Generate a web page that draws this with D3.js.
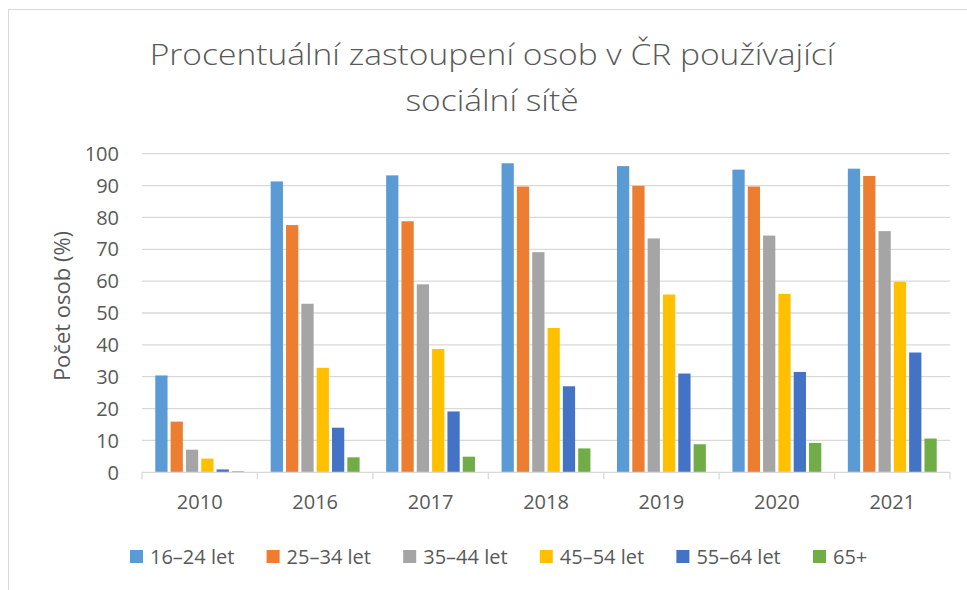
<!DOCTYPE html>
<html>
<head>
<meta charset="utf-8">
<script src="https://cdn.jsdelivr.net/npm/d3@7"></script>
<style>
    body { margin: 0; background: #fff; }
    text { font-family: "Open Sans", "Noto Sans", sans-serif; fill: #595959; }
</style>
</head>
<body>
<div id="chart"></div>
<script>
"use strict";

// Data
let years = ["2010", "2016", "2017", "2018", "2019", "2020", "2021"];
let groups = ["16–24 let", "25–34 let", "35–44 let", "45–54 let", "55–64 let", "65+"];
let colours = ["#5B9BD5", "#ED7D31", "#A5A5A5", "#FFC000", "#4472C4", "#70AD47"];

let age1624 = [30.4, 91.3, 93.2, 97.0, 96.1, 95.0, 95.3];
let age2534 = [15.9, 77.6, 78.8, 89.7, 89.9, 89.7, 93.0];
let age3544 = [7.1, 52.9, 59.0, 69.1, 73.4, 74.3, 75.7];
let age4554 = [4.3, 32.8, 38.7, 45.3, 55.8, 56.0, 59.8];
let age5564 = [0.9, 14.0, 19.1, 27.0, 31.0, 31.5, 37.6];
let age65 = [0.3, 4.7, 4.9, 7.5, 8.8, 9.2, 10.6];

let yTicks = [0, 10, 20, 30, 40, 50, 60, 70, 80, 90, 100];

function barchart() {

    let width = 967;
    let height = 590;
    let left = 142;
    let right = 950;
    let top = 153.7;
    let bottom = 472.3;

    let series = [age1624, age2534, age3544, age4554, age5564, age65];

    let svg = d3.select("#chart").append("svg")
        .attr("width", width).attr("height", height);

    // Chart frame (only left and top edges visible)
    svg.append("rect").attr("x", 8.5).attr("y", 9.5)
        .attr("width", 1000).attr("height", 700)
        .style("fill", "none").style("stroke", "#d9d9d9").style("stroke-width", 1);

    // Scales
    let x0 = d3.scaleBand().domain(years).range([left, right]);
    let x1 = d3.scaleBand().domain(groups)
        .range([x0.bandwidth() * 0.115, x0.bandwidth() * 0.885])
        .paddingInner(0.2);
    let y = d3.scaleLinear().domain([0, 100]).range([bottom, top]);

    // Gridlines
    svg.append("g").selectAll("line").data(yTicks.slice(1)).enter()
        .append("line")
        .attr("x1", left).attr("x2", right)
        .attr("y1", function (d) { return y(d); })
        .attr("y2", function (d) { return y(d); })
        .style("stroke", "#d9d9d9").style("stroke-width", 1.3);

    // Y tick labels
    svg.append("g").selectAll("text").data(yTicks).enter()
        .append("text")
        .attr("x", 119)
        .attr("y", function (d) { return y(d); })
        .attr("dy", "0.36em")
        .style("text-anchor", "end").style("font-size", "20px")
        .text(function (d) { return d; });

    // Bars
    let groupsG = svg.append("g").selectAll("g").data(years).enter()
        .append("g")
        .attr("transform", function (d) { return `translate(${x0(d)},0)`; });

    groupsG.selectAll("rect").data(function (d, i) {
        return series.map(function (s, j) {
            return {group: groups[j], value: s[i], colour: colours[j]};
        });
    }).enter()
        .append("rect")
        .attr("x", function (d) { return x1(d.group); })
        .attr("y", function (d) { return y(d.value); })
        .attr("width", x1.bandwidth())
        .attr("height", function (d) { return y(0) - y(d.value); })
        .style("fill", function (d) { return d.colour; });

    // X axis
    let xAxis = svg.append("g").attr("transform", `translate(0,${bottom})`)
        .call(d3.axisBottom(x0).tickSize(0).tickPadding(23));
    xAxis.select(".domain").remove();
    xAxis.selectAll("text").style("font-size", "20px")
        .style("font-family", "'Open Sans', sans-serif").style("fill", "#595959");

    svg.append("line").attr("x1", left).attr("x2", right)
        .attr("y1", bottom).attr("y2", bottom)
        .style("stroke", "#d9d9d9").style("stroke-width", 1.3);

    let boundaries = years.map(function (d) { return x0(d); }).concat([right]);
    svg.append("g").selectAll("line").data(boundaries).enter()
        .append("line")
        .attr("x1", function (d) { return d; }).attr("x2", function (d) { return d; })
        .attr("y1", bottom).attr("y2", bottom + 7)
        .style("stroke", "#d9d9d9").style("stroke-width", 1.3);

    // Y axis title
    svg.append("text")
        .attr("transform", `translate(70,${(top + bottom) / 2 - 7}) rotate(-90)`)
        .style("text-anchor", "middle").style("font-size", "22px")
        .text("Počet osob (%)");

    // Title, stretched a little sideways to the width of the original
    let titleLines = ["Procentuální zastoupení osob v ČR používající", "sociální sítě"];
    let titleBase = [65, 111];
    let titleG = svg.append("g").attr("transform", "translate(492,0)");
    let titleTexts = titleG.selectAll("text").data(titleLines).enter()
        .append("text")
        .attr("y", function (d, i) { return titleBase[i]; })
        .style("text-anchor", "middle").style("font-size", "29.5px").style("font-weight", 300)
        .text(function (d) { return d; });
    let firstWidth = titleTexts.node().getComputedTextLength();
    let stretch = 685 / firstWidth;
    titleG.attr("transform", `translate(492,0) scale(${stretch},1)`);

    // Legend
    let legend = svg.append("g").selectAll("g").data(groups).enter()
        .append("g")
        .attr("transform", function (d, i) { return `translate(${130 + i * 136.6},550)`; });
    legend.append("rect").attr("width", 13).attr("height", 13)
        .style("fill", function (d, i) { return colours[i]; });
    legend.append("text").attr("x", 20).attr("y", 14)
        .style("font-size", "20px")
        .text(function (d) { return d; });
}

window.onload = function () {
    barchart();
};
</script>
</body>
</html>
